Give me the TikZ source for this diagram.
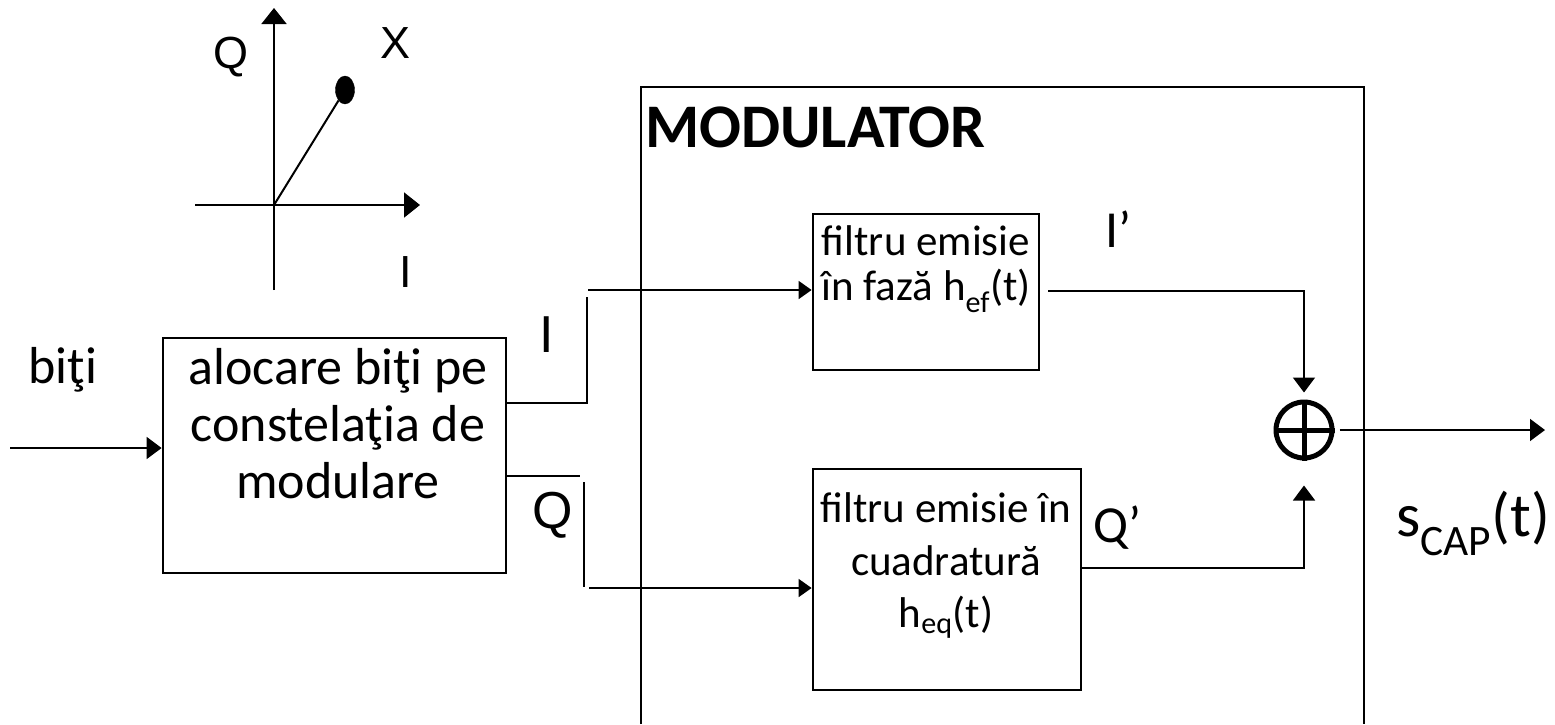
\documentclass[tikz,border=0pt]{standalone}
\usepackage{fontspec}
\setmainfont{Carlito}
\newfontfamily\arialf{Liberation Sans}
\usetikzlibrary{arrows.meta,shapes.geometric}
\tikzset{
  box/.style={draw, line width=2.8pt, inner sep=0pt},
  conn/.style={line width=1.7pt},
  arr/.style={conn, -{Triangle[length=15pt,width=22pt]}},
  arrs/.style={conn, -{Triangle[length=13pt,width=18pt]}},
  axarr/.style={line width=2pt, -{Triangle[length=16pt,width=25pt]}},
  txt/.style={inner sep=0pt, anchor=base, font=\fontsize{52}{60}\selectfont},
  ftxt/.style={inner sep=0pt, anchor=base, font=\fontsize{43}{50}\selectfont},
  atxt/.style={inner sep=0pt, anchor=base, font=\arialf\fontsize{45}{52}\selectfont},
  btxt/.style={inner sep=0pt, anchor=base, font=\arialf\fontsize{52}{60}\selectfont},
}
\begin{document}
\begin{tikzpicture}[x=1pt,y=-1pt]
\useasboundingbox (0,0) rectangle (1555,724);
% constellation
\coordinate (ybot) at (274,290);
\coordinate (ytop) at (274,8);
\coordinate (xl) at (195,205);
\coordinate (xr) at (420,205);
\coordinate (orig) at (274,205);
\node[draw, fill, ellipse, minimum width=19pt, minimum height=28pt, inner sep=0pt] (pt) at (345,90) {};
\draw[axarr] (ybot) -- (ytop);
\draw[axarr] (xl) -- (xr);
\draw[line width=2pt] (orig) -- (pt);
\node[atxt] (lq) at (231,68) {Q};
\node[atxt] (lx) at (396,58) {X};
\node[atxt] (li) at (406,287) {I};
% input
\node[txt] (biti) at (63,383) {biţi};
\node[box, minimum width=343pt, minimum height=235pt] (alloc) at (334.5,455.5) {};
\node[txt] (a1) at (338,384) {alocare biţi pe};
\node[txt] (a2) at (338,441) {constelaţia de};
\node[txt] (a3) at (338,498) {modulare};
\coordinate (in) at (10,448);
\draw[arr] (in) -- (alloc.west |- in);
% modulator
\coordinate (mbl) at (641,724);
\coordinate (mtl) at (641,87);
\coordinate (mtr) at (1364,87);
\coordinate (mbr) at (1364,724);
\draw[line width=2.8pt] (mbl) -- (mtl) -- (mtr) -- (mbr);
\node[inner sep=0pt, anchor=base west, font=\bfseries\fontsize{62}{72}\selectfont] (mod) at (645,147) {MODULATOR};
% filters
\node[box, minimum width=226pt, minimum height=156pt] (f1) at (926,292) {};
\node[ftxt] (f1a) at (926,255) {filtru emisie};
\node[ftxt] (f1b) at (926,300) {în fază h\textsubscript{ef}(t)};
\node[box, minimum width=268pt, minimum height=221pt] (f2) at (947,579.5) {};
\node[ftxt] (f2a) at (946,522) {filtru emisie în};
\node[ftxt] (f2b) at (946,575) {cuadratură};
\node[ftxt] (f2c) at (946,627) {h\textsubscript{eq}(t)};
% sum
\node[draw, circle, line width=5pt, minimum size=56pt, inner sep=0pt] (sum) at (1304,430) {};
\draw[line width=5pt] (sum.west) -- (sum.east);
\draw[line width=5pt] (sum.north) -- (sum.south);
% I branch
\coordinate (i0) at (506,403);
\coordinate (i1) at (587,403);
\coordinate (i2) at (587,297);
\coordinate (i3) at (588,290);
\draw[conn] (i0) -- (i1) -- (i2);
\draw[arrs] (i3) -- (f1.west |- i3);
\node[btxt] (lI) at (547,352) {I};
% Q branch
\coordinate (q0) at (506,476);
\coordinate (q1) at (580,476);
\coordinate (q2) at (584,482);
\coordinate (q3) at (584,587);
\coordinate (q4) at (589,588);
\draw[conn] (q0) -- (q1);
\draw[conn] (q2) -- (q3);
\draw[arrs] (q4) -- (f2.west |- q4);
\node[btxt] (lQ) at (553,528) {Q};
% outputs of filters
\coordinate (o1) at (1048,291);
\coordinate (o1c) at (1304,291);
\draw[arr, shorten >=7pt] (o1) -- (o1c) -- (sum.north);
\node[txt, anchor=base west] (lIp) at (1105,247) {I’};
\coordinate (o2) at (1082,568);
\coordinate (o2c) at (1304,568);
\draw[arr, shorten >=25pt] (o2) -- (o2c) -- (sum.south);
\node[txt, anchor=base west] (lQp) at (1093,542) {Q’};
% output
\coordinate (out) at (1545,430);
\draw[arr] ([xshift=5pt]sum.east) -- (out);
\node[inner sep=0pt, anchor=base west, font=\fontsize{62}{72}\selectfont] (scap) at (1396,536) {s\textsubscript{CAP}(t)};
\end{tikzpicture}
\end{document}
